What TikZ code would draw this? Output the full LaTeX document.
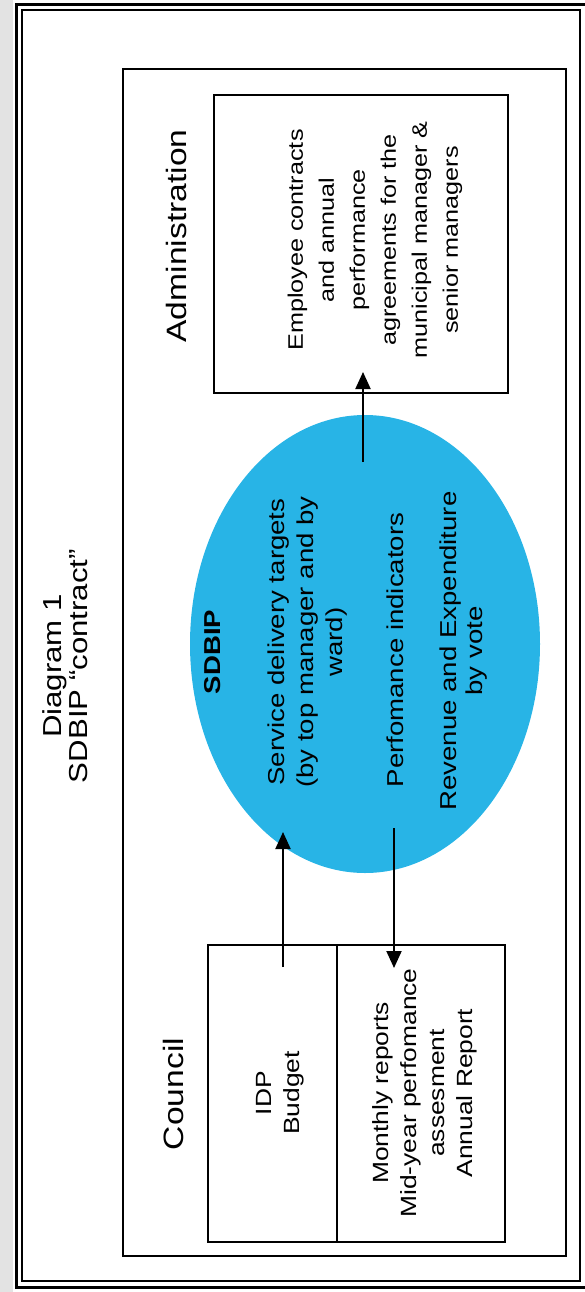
\documentclass[tikz,border=0pt]{standalone}
\usepackage{fontspec}
\setmainfont{Liberation Sans}[FakeStretch=1.2]
\usetikzlibrary{arrows.meta,shapes.geometric}
\definecolor{sdbipblue}{RGB}{40,180,230}
\begin{document}
\begin{tikzpicture}[x=1pt,y=-1pt,
  box/.style={draw=black, line width=2pt, inner sep=0pt},
  txt/.style={rotate=90, align=center, inner sep=0pt, text=black},
  arr/.style={line width=2pt, -{Triangle[length=17pt,width=15pt]}}]
\useasboundingbox (0,0) rectangle (584,1292);
% scanner shading on the left edge
\fill[gray!22] (0,0) rectangle (13,1292);
% double frame
\node[draw=black, line width=3pt, inner sep=0pt, minimum width=574pt, minimum height=1282pt] (outerframe) at (303,646) {};
\node[box, minimum width=558pt, minimum height=1271pt] (innerframe) at (301,645.5) {};
% middle rectangle
\node[box, minimum width=443pt, minimum height=1187pt] (midbox) at (344.5,662.5) {};
% title
\node[txt, font=\fontsize{26}{26}\selectfont] (title) at (65.5,666) {Diagram 1\\SDBIP ``contract''};
% administration
\node[txt, font=\fontsize{28}{30}\selectfont] (adminlbl) at (176.5,236) {Administration};
\node[box, minimum width=294pt, minimum height=298pt] (adminbox) at (361,244) {};
\node[txt, font=\fontsize{21}{31}\selectfont] (admintext) at (375,240) {Employee contracts\\and annual\\performance\\agreements for the\\municipal manager \&\\senior managers};
% SDBIP ellipse
\node[ellipse, fill=sdbipblue, inner sep=0pt, minimum width=350pt, minimum height=458pt] (sdbip) at (365,644) {};
\node[txt, font=\bfseries\fontsize{23}{28}\selectfont] (sdbiplbl) at (213,652) {SDBIP};
\node[txt, font=\fontsize{23}{29}\selectfont] (service) at (308,642) {Service delivery targets\\(by top manager and by\\ward)};
\node[txt, font=\fontsize{23}{29}\selectfont] (perf) at (395,650) {Perfomance indicators};
\node[txt, font=\fontsize{23}{26}\selectfont] (revenue) at (464,651) {Revenue and Expenditure\\by vote};
% council
\node[txt, font=\fontsize{28}{30}\selectfont] (councillbl) at (173,1094) {Council};
\node[box, minimum width=297pt, minimum height=297pt] (councilbox) at (356.5,1093.5) {};
\draw[line width=2pt] (councilbox.north west -| 337,0) coordinate (divtop) -- (councilbox.south west -| 337,0) coordinate (divbot);
\node[txt, font=\fontsize{22}{28.5}\selectfont] (idp) at (280,1093) {IDP\\Budget};
\node[txt, font=\fontsize{22}{28}\selectfont] (reports) at (425,1093) {Monthly reports\\Mid-year perfomance\\assesment\\Annual Report};
% arrows
\coordinate (a1s) at (363,462);
\coordinate (a1e) at (363,372);
\coordinate (a2s) at (283,967);
\coordinate (a2e) at (283,832);
\coordinate (a3s) at (394,828);
\coordinate (a3e) at (394,968);
\draw[arr] (a1s) -- (a1e);
\draw[arr] (a2s) -- (a2e);
\draw[arr] (a3s) -- (a3e);
\end{tikzpicture}
\end{document}
